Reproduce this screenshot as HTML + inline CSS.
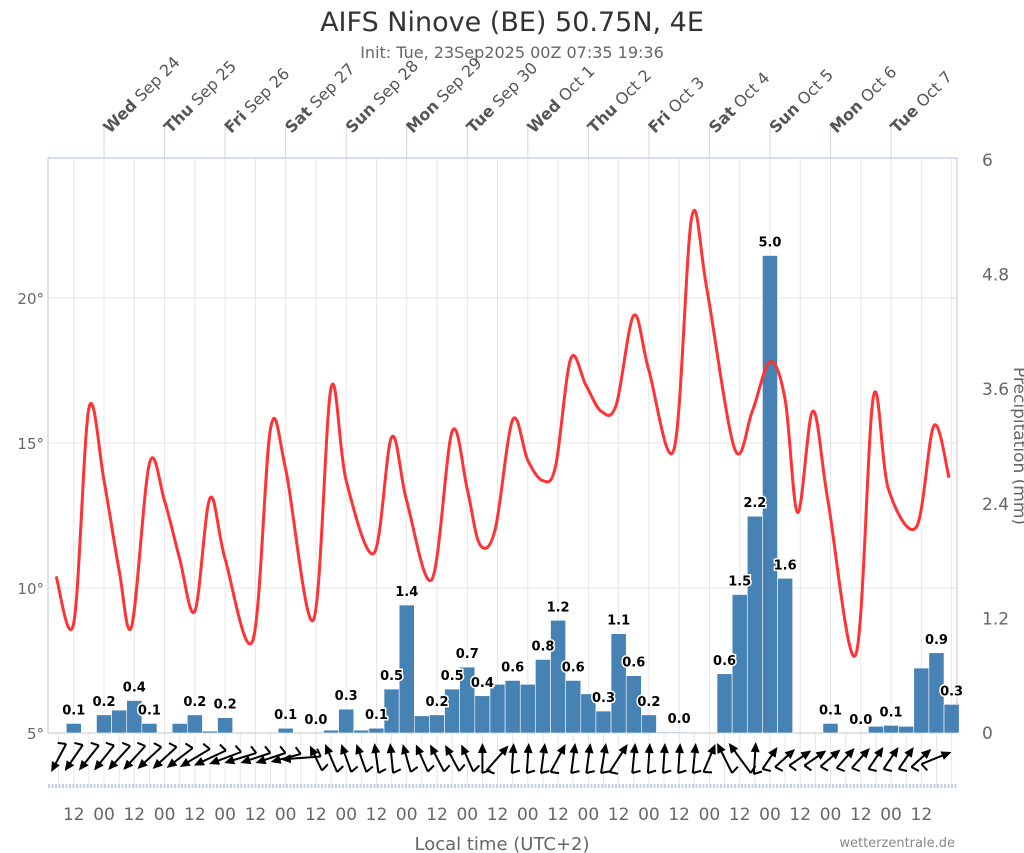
<!DOCTYPE html>
<html><head><meta charset="utf-8"><style>
html,body{margin:0;padding:0;background:#fff;}
svg{display:block;font-family:"DejaVu Sans","Liberation Sans",sans-serif;}
</style></head><body>
<svg id="chart" width="1024" height="853" viewBox="0 0 1024 853" xmlns="http://www.w3.org/2000/svg">
<text x="512" y="31" text-anchor="middle" font-size="27" fill="#333">AIFS Ninove (BE) 50.75N, 4E</text>
<text x="512" y="58" text-anchor="middle" font-size="16" fill="#666">Init: Tue, 23Sep2025 00Z 07:35 19:36</text>
<g id="grid"></g>
<g id="topaxis"></g>
<g id="bars"></g>
<g id="barlabels"></g>
<path id="templine" fill="none" stroke="#ff3333" stroke-width="3"/>
<g id="wind"></g>
<g id="axes"></g>
<text x="502" y="850" text-anchor="middle" font-size="18" fill="#666">Local time (UTC+2)</text>
<text x="955" y="847" text-anchor="end" font-size="13" fill="#888">wetterzentrale.de</text>
<text transform="translate(1014,446) rotate(90)" text-anchor="middle" font-size="17" fill="#666">Precipitation (mm)</text>
</svg>
<script>
// ---- data ----
const dayLabelsW = ["Wed","Thu","Fri","Sat","Sun","Mon","Tue","Wed","Thu","Fri","Sat","Sun","Mon","Tue"];
const dayLabelsD = ["Sep 24","Sep 25","Sep 26","Sep 27","Sep 28","Sep 29","Sep 30","Oct 1","Oct 2","Oct 3","Oct 4","Oct 5","Oct 6","Oct 7"];
const tempTicks = [5,10,15,20];
const precipTicks = ["0","1.2","2.4","3.6","4.8","6"];
const precipTickVals = [0,1.2,2.4,3.6,4.8,6];
const precip = [0.1,0,0.19,0.24,0.34,0.1,0,0.1,0.19,0.02,0.16,0,0,0,0.05,0,0,0.03,0.25,0.03,
 0.05,0.46,1.34,0.18,0.19,0.46,0.69,0.39,0.51,0.55,0.51,0.77,1.18,0.55,0.41,0.23,1.04,0.6,0.19,0.01,
 0.01,0,0,0.62,1.45,2.27,5.0,1.62,0,0,0.1,0,0,0.07,0.08,0.07,0.68,0.84,0.3];
const precipLabels = ["0.1","","0.2","","0.4","0.1","","","0.2","","0.2","","","","0.1","","0.0","","0.3","",
 "0.1","0.5","1.4","","0.2","0.5","0.7","0.4","","0.6","","0.8","1.2","0.6","","0.3","1.1","0.6","0.2","",
 "0.0","","","0.6","1.5","2.2","5.0","1.6","","","0.1","","0.0","","0.1","","","0.9","0.3"];
const tempHours = [5,12,18,24,30,35,42,48,54,60,66,72,83,90,96,107,114,120,131,138,144,154,162,168,173,179,186,192,198,203,209,215,221,227,234,240,250,257,263,274,281,288,294,299,305,311,322,329,335,346,353,359];
const tempVals = [10.4,8.8,16.2,13.7,10.6,8.7,14.3,13.0,11.0,9.2,13.1,11.0,8.2,15.5,14.1,8.9,16.9,13.7,11.2,15.2,13.0,10.3,15.4,13.4,11.5,12.0,15.8,14.4,13.7,14.2,17.9,17.0,16.1,16.3,19.4,17.5,14.8,22.8,20.3,14.8,16.1,17.8,16.5,12.6,16.1,13.0,7.7,16.6,13.4,12.1,15.6,13.8];
const windU = [-15,-18,-20,-20,-22,-22,-24,-24,-26,-30,-32,-32,-32,-30,-30,-30,-40,-12,-12,-10,-10,-4,-3,-8,-12,-14,-14,-12,0,22,2,2,4,15,4,4,5,18,3,2,2,2,3,12,-15,-22,2,15,20,22,22,20,18,18,15,15,15,20,30];
const windV = [28,26,25,25,24,24,22,22,20,18,15,12,10,10,10,8,3,-25,-28,-28,-28,-30,-30,-28,-27,-27,-26,-27,-30,-25,-30,-30,-30,-28,-30,-30,-30,-28,-30,-30,-30,-30,-30,-28,-30,-30,-32,-22,-18,-15,-15,-17,-20,-20,-22,-22,-22,-18,-12];

// ---- scales ----
const PL=48,PR=957,PT=158,PB=733;
const X0=43.5, PXH=60.54/24;
function xT(h){return X0+h*PXH;}
function yTemp(v){return PB-(v-5)*29;}
function yP(v){return PB-v*95.5;}
const SVGNS="http://www.w3.org/2000/svg";
function mk(tag,attrs,parent){const e=document.createElementNS(SVGNS,tag);for(const k in attrs)e.setAttribute(k,attrs[k]);parent.appendChild(e);return e;}

const gridG=document.getElementById('grid');
mk('rect',{x:PL,y:PT,width:PR-PL,height:PB-PT,fill:'#fff'},gridG);
for(let h=6;h<=360;h+=6){const x=xT(h);if(x<=PL||x>=PR)continue;
 const y1=(h%12===0)?PT:PB;
 const g=mk('line',{x1:x,x2:x,y1:y1,y2:787,stroke:'#e6e6e6','stroke-width':1},gridG);
 
 }
tempTicks.forEach(v=>{const y=yTemp(v);
 const g=mk('line',{x1:PL,x2:PR,y1:y,y2:y,stroke:'#e6e6e6','stroke-width':1},gridG);
 
 });
mk('line',{x1:PL,x2:PL,y1:PT,y2:PB,stroke:'#d8d8d8','stroke-width':1.5},gridG);
mk('line',{x1:PR,x2:PR,y1:PT,y2:PB,stroke:'#d8d8d8','stroke-width':1.5},gridG);
mk('line',{x1:PL,x2:PR,y1:PB,y2:PB,stroke:'#d8d8d8','stroke-width':1.5},gridG);
mk('line',{x1:PL,x2:PR,y1:PT,y2:PT,stroke:'#ccd6eb','stroke-width':1.5},gridG);
mk('line',{x1:PL,x2:PR,y1:786,y2:786,stroke:'#c6cfdc','stroke-width':4,'stroke-dasharray':'2 1.5'},gridG);

const topAx=document.getElementById('topaxis');
dayLabelsW.forEach((w,i)=>{const x=xT(24*(i+1));
 const ln=mk('line',{x1:x,x2:x,y1:127,y2:PT,stroke:'#ccd6eb','stroke-width':1},topAx);
 
 
 const t=mk('text',{transform:`translate(${x+6},${134}) rotate(-45)`,'font-size':16,fill:'#555'},topAx);
 
 
 const b=mk('tspan',{'font-weight':'bold'},t);b.textContent=w;
 const s=mk('tspan',{},t);s.textContent=' '+dayLabelsD[i];});

const barsG=document.getElementById('bars'), labelsG=document.getElementById('barlabels');
const bw=6*PXH;
precip.forEach((v,k)=>{const cx=xT(12+6*k);
 if(v>0){const r=mk('rect',{x:cx-bw/2,y:yP(v),width:bw,height:PB-yP(v),fill:'#4682b4',stroke:'#fff','stroke-width':0.6},barsG);
 
 }
 if(precipLabels[k]){const t=mk('text',{x:cx,y:yP(v)-9,'text-anchor':'middle','font-size':13,'font-weight':'bold',fill:'#000',stroke:'#fff','stroke-width':3,'paint-order':'stroke'},labelsG);
 t.textContent=precipLabels[k];
 
 }});

const pts=tempHours.map((h,i)=>[xT(h),yTemp(tempVals[i])]);
let pathD=`M${pts[0][0]},${pts[0][1]}`;
for(let i=0;i<pts.length-1;i++){const p0=pts[Math.max(0,i-1)],p1=pts[i],p2=pts[i+1],p3=pts[Math.min(pts.length-1,i+2)];
 const c1=[p1[0]+(p2[0]-p0[0])/6,p1[1]+(p2[1]-p0[1])/6],c2=[p2[0]-(p3[0]-p1[0])/6,p2[1]-(p3[1]-p1[1])/6];
 pathD+=` C${c1[0]},${c1[1]} ${c2[0]},${c2[1]} ${p2[0]},${p2[1]}`;}
document.getElementById('templine').setAttribute('d',pathD);

const windG=document.getElementById('wind');
windU.forEach((u,i)=>{const v=windV[i];const cx=xT(6+6*i),cy=758;
 const tx=cx-u/2,ty=cy-v/2,hx=cx+u/2,hy=cy+v/2;const len=Math.hypot(u,v)||1;const ux=u/len,uy=v/len;
 const g=mk('g',{},windG);
 
 
 mk('line',{x1:tx,y1:ty,x2:hx-ux*6,y2:hy-uy*6,stroke:'#000','stroke-width':2},g);
 mk('polygon',{points:`${hx},${hy} ${hx-ux*10-uy*4.5},${hy-uy*10+ux*4.5} ${hx-ux*10+uy*4.5},${hy-uy*10-ux*4.5}`,fill:'#000'},g);
 mk('line',{x1:tx,y1:ty,x2:tx-uy*8+ux*3,y2:ty+ux*8+uy*3,stroke:'#000','stroke-width':2},g);});

const axG=document.getElementById('axes');
tempTicks.forEach(v=>{const t=mk('text',{x:44,y:yTemp(v)+6,'text-anchor':'end','font-size':15,fill:'#666'},axG);t.textContent=v+'°';
 
 });
precipTickVals.forEach((v,i)=>{const t=mk('text',{x:982,y:yP(v)+6,'font-size':17,fill:'#666'},axG);t.textContent=precipTicks[i];
 
 });
for(let h=12;h<=348;h+=12){const t=mk('text',{x:xT(h),y:820,'text-anchor':'middle','font-size':17,fill:'#666'},axG);
 t.textContent=(h%24===0)?'00':'12';
 
 }
</script>
</body></html>
